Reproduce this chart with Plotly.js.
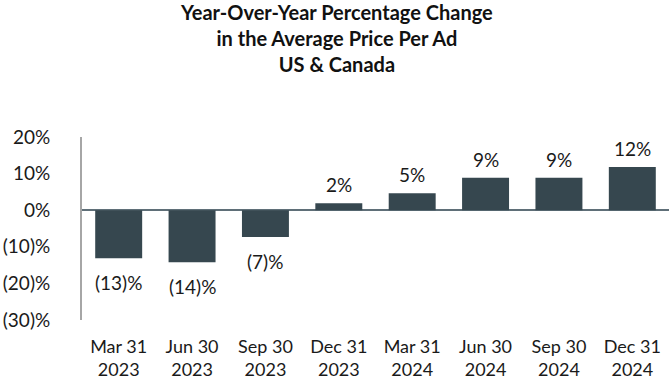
<!DOCTYPE html>
<html>
<head>
<meta charset="utf-8">
<script src="https://cdn.plot.ly/plotly-3.0.1.min.js"></script>
<style>html,body{margin:0;padding:0;background:#fff;}#chart{width:672px;height:384px;}</style>
</head>
<body>
<div id="chart"></div>
<script>
const categories = ["Mar 31<br>2023","Jun 30<br>2023","Sep 30<br>2023","Dec 31<br>2023","Mar 31<br>2024","Jun 30<br>2024","Sep 30<br>2024","Dec 31<br>2024"];
const values = [-13.1, -14.2, -7.3, 1.9, 4.6, 8.9, 8.9, 11.8];
const valueLabels = ["(13)%","(14)%","(7)%","2%","5%","9%","9%","12%"];
const tickValues = [20, 10, 0, -10, -20, -30];
const tickLabels = ["20%","10%","0%","(10)%","(20)%","(30)%"];
const titleText = "<b>Year-Over-Year Percentage Change<br>in the Average Price Per Ad<br>US & Canada</b>";

const FONT = "Lato, 'Open Sans', sans-serif";
const ML = 82, MR = 3, W = 672;
const annotations = categories.map((c, i) => ({
  x: c, y: values[i], xref: 'x', yref: 'y',
  text: valueLabels[i], showarrow: false,
  yanchor: values[i] >= 0 ? 'bottom' : 'top',
  yshift: values[i] >= 0 ? 5 : -11,
  font: {family: FONT, size: 19, color: '#1a1a1a'}
}));
annotations.push({
  text: titleText, showarrow: false,
  xref: 'paper', x: (W / 2 - ML) / (W - ML - MR), xanchor: 'center',
  yref: 'paper', y: 1, yanchor: 'middle', yshift: 99,
  font: {family: FONT, size: 20, color: '#111'}
});

Plotly.newPlot('chart', [{
  type: 'bar', x: categories, y: values,
  marker: {color: '#36474F'}, hoverinfo: 'none'
}], {
  width: 672, height: 384,
  margin: {l: ML, r: MR, t: 137, b: 64},
  paper_bgcolor: '#fff', plot_bgcolor: '#fff',
  bargap: 0.36,
  showlegend: false,
  xaxis: {
    type: 'category', showgrid: false, zeroline: false, showline: false,
    ticks: '', tickfont: {family: FONT, size: 18, color: '#1a1a1a'},
    ticklabelstandoff: 14
  },
  yaxis: {
    range: [-30, 20], tickvals: tickValues, ticktext: tickLabels,
    showgrid: false, zeroline: true, zerolinecolor: '#5f6f78', zerolinewidth: 2,
    showline: true, linecolor: '#a6a6a6', linewidth: 2,
    ticks: '', ticklen: 0, tickfont: {family: FONT, size: 19, color: '#1a1a1a'},
    ticklabelstandoff: 26
  },
  annotations: annotations
}, {displayModeBar: false, staticPlot: true});
</script>
</body>
</html>
